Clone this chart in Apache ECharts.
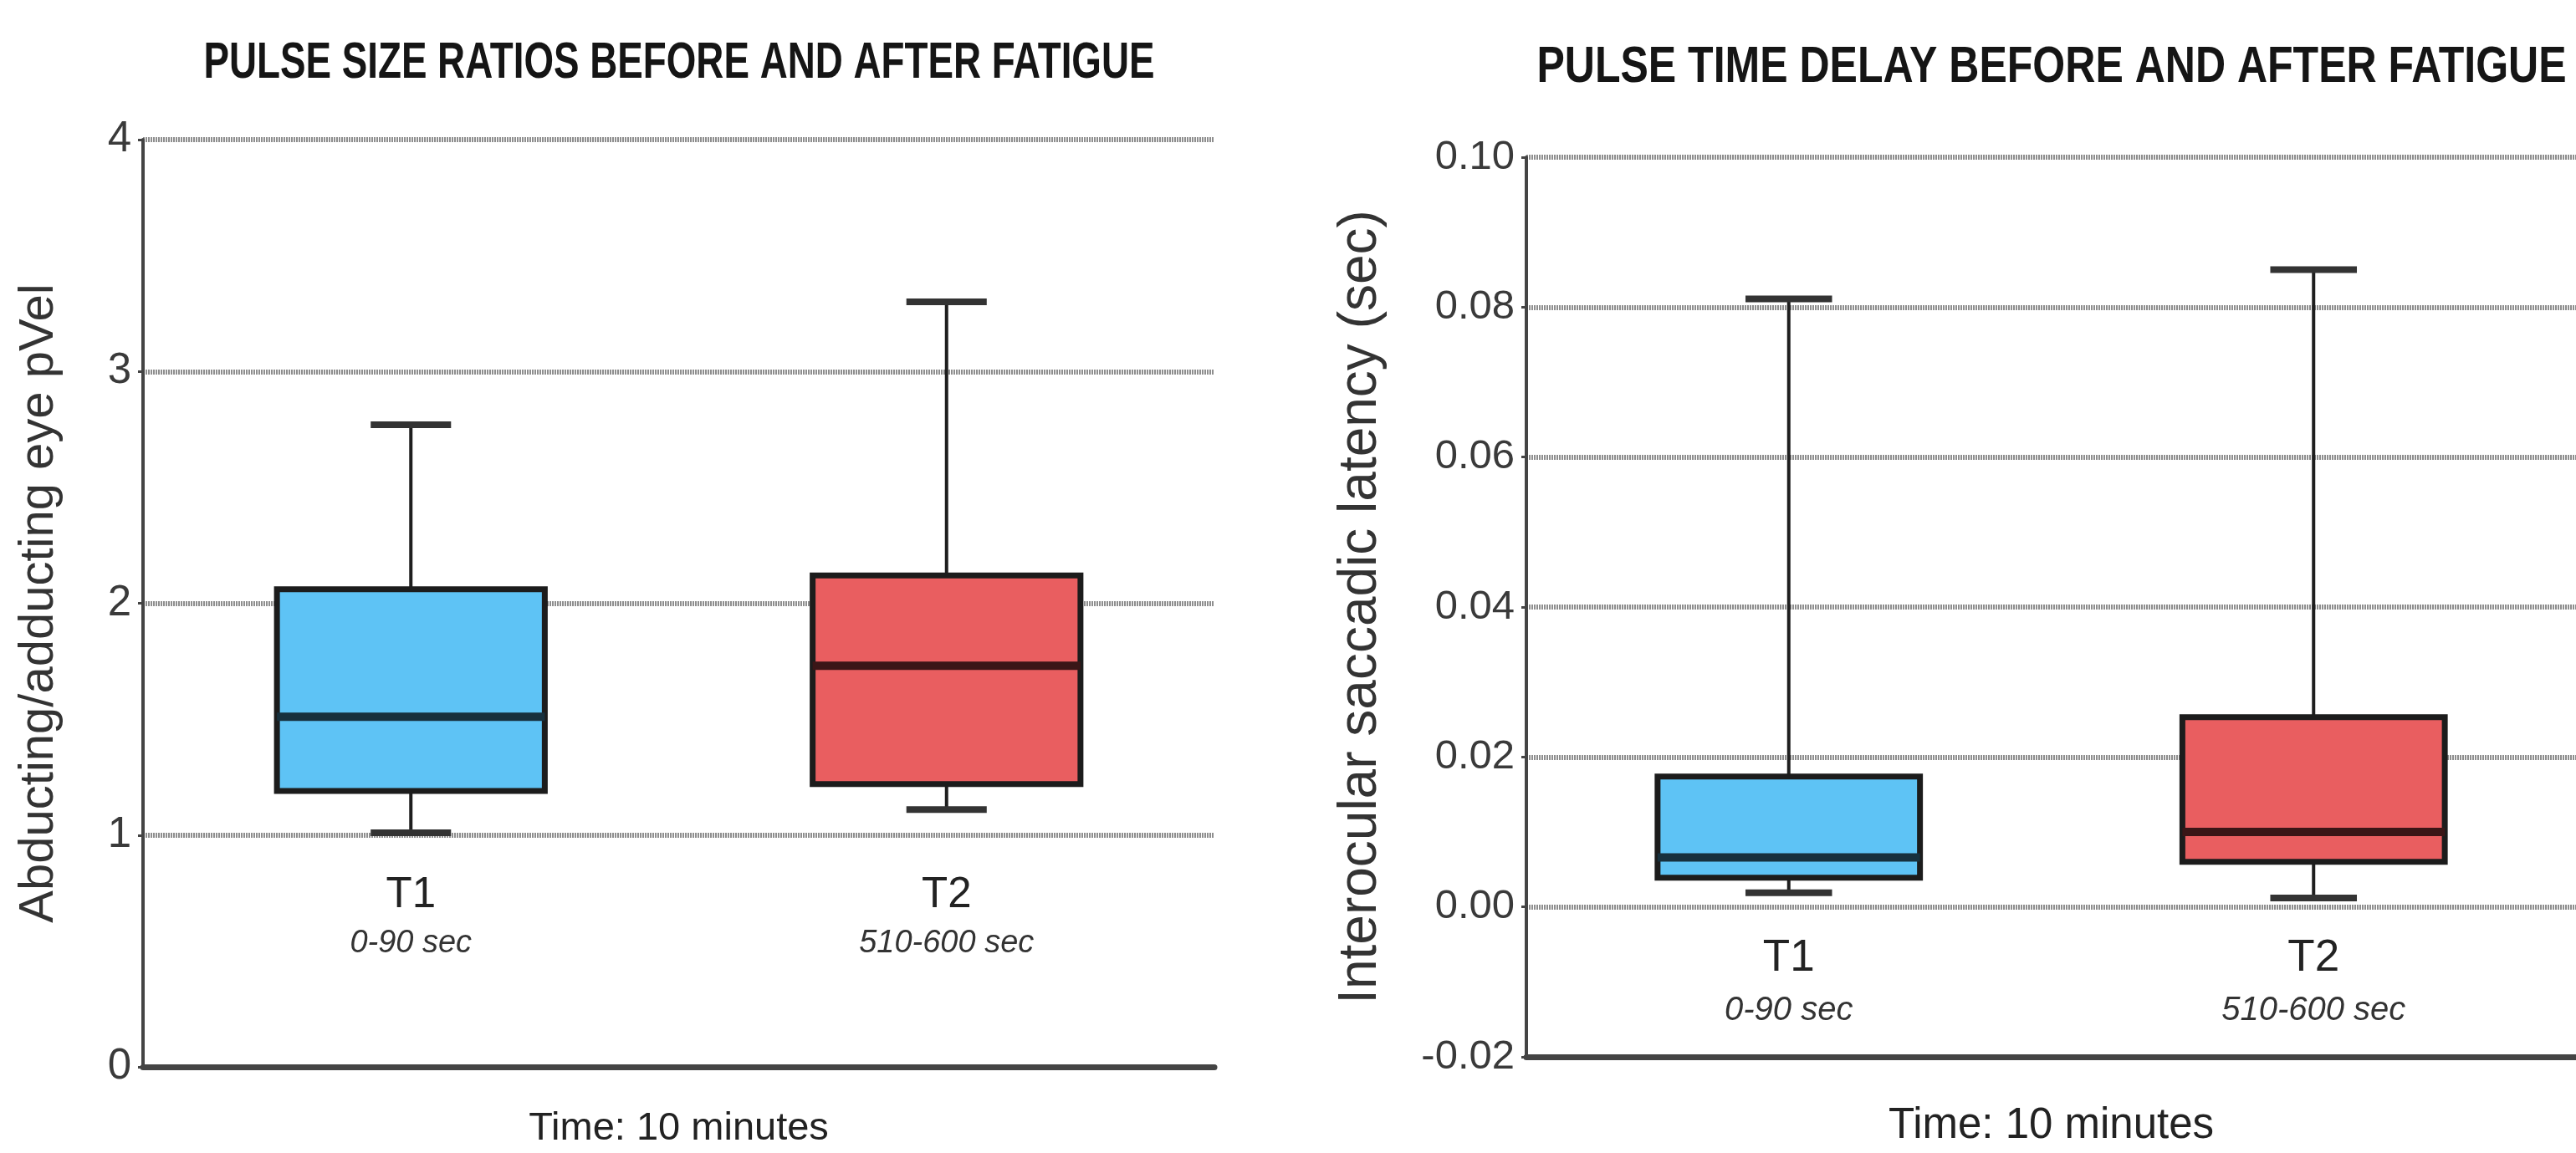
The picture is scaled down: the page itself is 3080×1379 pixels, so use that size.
<!DOCTYPE html>
<html>
<head>
<meta charset="utf-8">
<title>Pulse size ratios and time delay before and after fatigue</title>
<script src="https://cdn.jsdelivr.net/npm/echarts@6/dist/echarts.min.js"></script>
<style>
  html, body { margin: 0; padding: 0; background: #fff; }
  #chart { width: 3080px; height: 1379px; }
</style>
</head>
<body>
<div id="chart"></div>
<script>
const categories = ['T1', 'T2']
const windows = ['0-90 sec', '510-600 sec']
// each row: [min, Q1, median, Q3, max]
const ratioStats = [
  [1.01, 1.19, 1.51, 2.06, 2.77],
  [1.11, 1.22, 1.73, 2.12, 3.30]
]
const delayStats = [
  [0.0019, 0.0039, 0.0066, 0.0174, 0.0811],
  [0.0012, 0.0060, 0.0100, 0.0253, 0.0850]
]
const ratioTicks = { min: 0, max: 4, interval: 1 }
const delayTicks = { min: -0.02, max: 0.10, interval: 0.02 }

const boxColors = ['#5ec3f5', '#e95e60']
const medianColors = ['#17303d', '#3a1617']
const FONT = "'Liberation Sans', Arial, Helvetica, sans-serif"

const chartRef = document.getElementById('chart')
const chart = echarts.init(chartRef)

const renderBox = (capRatio) => (params, api) => {
  const x = api.value(0)
  const lo = api.coord([x, api.value(1)])
  const q1 = api.coord([x, api.value(2)])
  const med = api.coord([x, api.value(3)])
  const q3 = api.coord([x, api.value(4)])
  const hi = api.coord([x, api.value(5)])
  const band = api.size([1, 0])[0]
  const bw = band * 0.5
  const cw = band * capRatio
  const cx = med[0]
  const i = params.dataIndex
  const thin = { stroke: '#1e1e1e', lineWidth: 4 }
  const cap = { stroke: '#333', lineWidth: 8 }
  return {
    type: 'group',
    children: [
      { type: 'line', shape: { x1: cx, y1: hi[1], x2: cx, y2: q3[1] }, style: thin },
      { type: 'line', shape: { x1: cx, y1: q1[1], x2: cx, y2: lo[1] }, style: thin },
      { type: 'line', shape: { x1: cx - cw / 2, y1: hi[1], x2: cx + cw / 2, y2: hi[1] }, style: cap },
      { type: 'line', shape: { x1: cx - cw / 2, y1: lo[1], x2: cx + cw / 2, y2: lo[1] }, style: cap },
      {
        type: 'rect',
        shape: { x: cx - bw / 2, y: q3[1], width: bw, height: q1[1] - q3[1] },
        style: { fill: boxColors[i], stroke: '#1c1c1c', lineWidth: 7 }
      },
      {
        type: 'line',
        shape: { x1: cx - bw / 2, y1: med[1], x2: cx + bw / 2, y2: med[1] },
        style: { stroke: medianColors[i], lineWidth: 10 }
      }
    ]
  }
}

const toRows = (stats) => stats.map((s, i) => [i, ...s])

const gridLine = { show: true, lineStyle: { color: '#8e8e8e', width: 6, type: [2, 1] } }

const bottomAxis = (gridIndex, nameSize, nameGap) => ({
  type: 'category',
  gridIndex,
  position: 'bottom',
  data: categories,
  boundaryGap: true,
  axisLine: { show: true, onZero: false, lineStyle: { color: '#444', width: 7 } },
  axisTick: { show: false },
  axisLabel: { show: false },
  splitLine: { show: false },
  name: 'Time: 10 minutes',
  nameLocation: 'middle',
  nameGap,
  nameTextStyle: { fontFamily: FONT, fontSize: nameSize, color: '#222' }
})

const labelAxis = (gridIndex, offset, margin, tSize, sSize, lh) => ({
  type: 'category',
  gridIndex,
  position: 'bottom',
  offset,
  data: categories,
  boundaryGap: true,
  axisLine: { show: false, onZero: false },
  axisTick: { show: false },
  splitLine: { show: false },
  axisLabel: {
    interval: 0,
    margin,
    formatter: (v, i) => '{t|' + v + '}\n{s|' + windows[i] + '}',
    rich: {
      t: { fontFamily: FONT, fontSize: tSize, color: '#222', lineHeight: lh, align: 'center' },
      s: { fontFamily: FONT, fontSize: sSize, fontStyle: 'italic', color: '#333', lineHeight: lh, align: 'center' }
    }
  }
})

const valueAxis = (gridIndex, ticks, name, nameSize, nameGap, labelSize, digits) => ({
  type: 'value',
  gridIndex,
  min: ticks.min,
  max: ticks.max,
  interval: ticks.interval,
  axisLine: { show: true, lineStyle: { color: '#444', width: 4 } },
  axisTick: { show: true, length: 6, lineStyle: { color: '#444', width: 3 } },
  axisLabel: {
    margin: 14,
    fontFamily: FONT,
    fontSize: labelSize,
    color: '#3a3a3a',
    formatter: (v) => v.toFixed(digits)
  },
  splitLine: gridLine,
  name,
  nameLocation: 'middle',
  nameRotate: 90,
  nameGap,
  nameTextStyle: { fontFamily: FONT, fontSize: nameSize, color: '#333' }
})

const option = {
  backgroundColor: '#fff',
  animation: false,
  graphic: [
    {
      type: 'text', x: 812, y: 76, scaleX: 0.75,
      style: {
        text: 'PULSE SIZE RATIOS BEFORE AND AFTER FATIGUE',
        font: 'bold 61px ' + FONT, fill: '#151515', align: 'center', verticalAlign: 'middle'
      }
    },
    {
      type: 'text', x: 2453, y: 81, scaleX: 0.82,
      style: {
        text: 'PULSE TIME DELAY BEFORE AND AFTER FATIGUE',
        font: 'bold 61px ' + FONT, fill: '#151515', align: 'center', verticalAlign: 'middle'
      }
    }
  ],
  grid: [
    { left: 171, top: 167, width: 1281, height: 1110 },
    { left: 1825, top: 188, width: 1272, height: 1076 }
  ],
  xAxis: [
    bottomAxis(0, 47, 51),
    labelAxis(0, -1110 / 4, 43, 51, 38, 58),
    bottomAxis(1, 51, 57),
    labelAxis(1, -1076 / 6, 30, 53, 40, 63)
  ],
  yAxis: [
    valueAxis(0, ratioTicks, 'Abducting/adducting eye pVel', 58, 95, 51, 0),
    valueAxis(1, delayTicks, 'Interocular saccadic latency (sec)', 64, 166, 49, 2)
  ],
  series: [
    {
      type: 'custom',
      xAxisIndex: 0,
      yAxisIndex: 0,
      renderItem: renderBox(0.15),
      data: toRows(ratioStats),
      z: 5
    },
    {
      type: 'custom',
      xAxisIndex: 2,
      yAxisIndex: 1,
      renderItem: renderBox(0.165),
      data: toRows(delayStats),
      z: 5
    }
  ]
}

chart.setOption(option)
</script>
</body>
</html>
